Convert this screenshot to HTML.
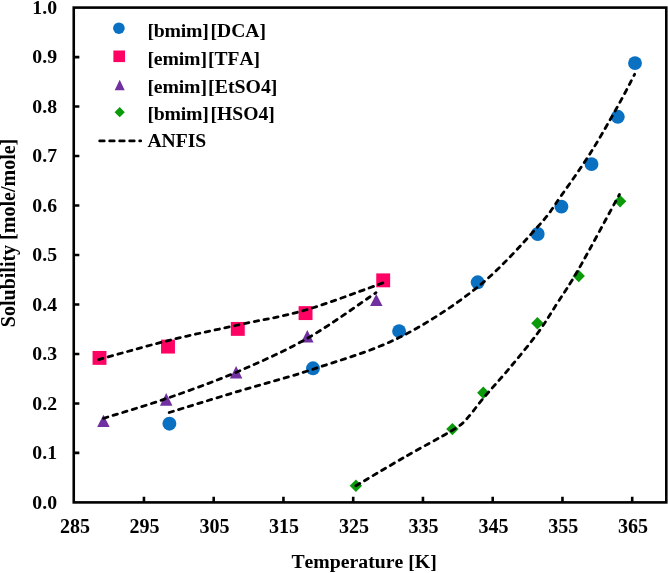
<!DOCTYPE html>
<html><head><meta charset="utf-8"><title>Solubility vs Temperature</title>
<style>html,body{margin:0;padding:0;background:#fff}svg{display:block;will-change:transform}text{font-family:"Liberation Serif",serif;font-weight:bold;fill:#000;font-kerning:none}</style></head><body>
<svg width="668" height="573" viewBox="0 0 668 573">
<rect x="0" y="0" width="668" height="573" fill="#fff"/>
<rect x="73.75" y="7.6" width="592.55" height="494.79999999999995" fill="none" stroke="#000" stroke-width="2.6"/>
<path d="M73.75,452.92h5.6 M73.75,403.44h5.6 M73.75,353.96h5.6 M73.75,304.48h5.6 M73.75,255.00h5.6 M73.75,205.52h5.6 M73.75,156.04h5.6 M73.75,106.56h5.6 M73.75,57.08h5.6 M143.95,502.4v-5.6 M213.70,502.4v-5.6 M283.45,502.4v-5.6 M353.20,502.4v-5.6 M422.95,502.4v-5.6 M492.70,502.4v-5.6 M562.45,502.4v-5.6 M632.20,502.4v-5.6" stroke="#000" stroke-width="2.6" fill="none"/>
<g font-size="19.75" text-anchor="end">
<text x="57.0" y="508.7">0.0</text>
<text x="57.0" y="459.2">0.1</text>
<text x="57.0" y="409.7">0.2</text>
<text x="57.0" y="360.3">0.3</text>
<text x="57.0" y="310.8">0.4</text>
<text x="57.0" y="261.3">0.5</text>
<text x="57.0" y="211.8">0.6</text>
<text x="57.0" y="162.3">0.7</text>
<text x="57.0" y="112.9">0.8</text>
<text x="57.0" y="63.4">0.9</text>
<text x="57.0" y="13.9">1.0</text>
</g>
<g font-size="20.05" text-anchor="middle">
<text x="74.9" y="532.6">285</text>
<text x="144.6" y="532.6">295</text>
<text x="214.4" y="532.6">305</text>
<text x="284.1" y="532.6">315</text>
<text x="353.9" y="532.6">325</text>
<text x="423.6" y="532.6">335</text>
<text x="493.4" y="532.6">345</text>
<text x="563.2" y="532.6">355</text>
<text x="632.9" y="532.6">365</text>
</g>
<text x="291.4" y="568.3" font-size="19.75">Temperature [K]</text>
<text transform="translate(15.2,327.2) rotate(-90)" font-size="20.03">Solubility [mole/mole]</text>
<g>
<circle cx="169.4" cy="423.7" r="6.95" fill="#0a70c2"/>
<circle cx="313" cy="368.3" r="6.95" fill="#0a70c2"/>
<circle cx="399.1" cy="331.1" r="6.95" fill="#0a70c2"/>
<circle cx="477.7" cy="282.3" r="6.95" fill="#0a70c2"/>
<circle cx="537.7" cy="234" r="6.95" fill="#0a70c2"/>
<circle cx="561.4" cy="206.6" r="6.95" fill="#0a70c2"/>
<circle cx="591.5" cy="164.1" r="6.95" fill="#0a70c2"/>
<circle cx="617.8" cy="116.8" r="6.95" fill="#0a70c2"/>
<circle cx="635" cy="63.1" r="6.95" fill="#0a70c2"/>
<rect x="92.55" y="350.95" width="13.9" height="13.9" fill="#fe0364"/>
<rect x="161.05" y="339.65" width="13.9" height="13.9" fill="#fe0364"/>
<rect x="230.85" y="321.95" width="13.9" height="13.9" fill="#fe0364"/>
<rect x="298.60" y="306.15" width="13.9" height="13.9" fill="#fe0364"/>
<rect x="376.25" y="273.40" width="13.9" height="13.9" fill="#fe0364"/>
<path d="M103.40,414.80L109.65,427.10H97.15Z" fill="#7030a0"/>
<path d="M166.20,393.10L172.45,405.70H159.95Z" fill="#7030a0"/>
<path d="M236.10,366.10L242.35,378.60H229.85Z" fill="#7030a0"/>
<path d="M307.30,330.00L313.55,342.40H301.05Z" fill="#7030a0"/>
<path d="M376.30,293.90L382.55,306.00H370.05Z" fill="#7030a0"/>
<path d="M355.9,479.6L362.09999999999997,485.8L355.9,492.0L349.7,485.8Z" fill="#0a9a0a"/>
<path d="M452.4,422.90000000000003L458.59999999999997,429.1L452.4,435.3L446.2,429.1Z" fill="#0a9a0a"/>
<path d="M483.3,386.5L489.5,392.7L483.3,398.9L477.1,392.7Z" fill="#0a9a0a"/>
<path d="M537.4,317.0L543.6,323.2L537.4,329.4L531.1999999999999,323.2Z" fill="#0a9a0a"/>
<path d="M578.7,269.8L584.9000000000001,276L578.7,282.2L572.5,276Z" fill="#0a9a0a"/>
<path d="M620.1,195.0L626.3000000000001,201.2L620.1,207.39999999999998L613.9,201.2Z" fill="#0a9a0a"/>
</g>
<g fill="none" stroke="#000" stroke-width="2.8" stroke-linecap="round" stroke-dasharray="4.5 5.5">
<path d="M169.2,412.5 C181.0,408.9 216.0,398.0 240.0,390.8 C264.0,383.6 286.5,378.1 313.0,369.2 C339.5,360.3 371.7,351.3 399.1,337.6 C426.6,323.9 454.6,305.5 477.7,287.0 C500.8,268.5 523.8,242.1 537.7,226.8 C551.7,211.5 552.4,208.0 561.4,195.4 C570.4,182.8 582.1,166.2 591.5,151.3 C600.9,136.4 610.6,118.9 617.8,106.1 C625.0,93.3 631.8,79.6 634.6,74.3"/>
<path d="M103.6,418.3 C114.1,415.0 144.4,406.2 166.5,398.5 C188.6,390.8 212.9,382.2 236.4,372.2 C259.9,362.1 284.3,351.4 307.6,338.2 C330.9,324.9 364.6,300.3 376.0,292.7"/>
<path d="M98.7,359.6 C110.3,356.4 144.9,346.4 168.1,340.6 C191.3,334.8 215.0,330.1 237.9,325.0 C260.8,319.9 281.3,317.1 305.6,310.0 C330.0,302.9 370.9,287.1 384.0,282.5"/>
<path d="M355.9,485.8 C363.9,481.1 388.1,466.6 404.1,457.4 C420.2,448.1 442.0,436.7 452.4,430.3 C462.8,423.9 461.3,424.5 466.4,419.2 C471.5,413.9 475.8,407.2 483.0,398.6 C490.2,390.0 500.7,378.7 509.8,367.8 C518.9,356.9 529.4,344.4 537.4,333.5 C545.4,322.6 550.7,313.4 557.6,302.6 C564.5,291.9 568.4,287.0 578.7,269.0 C589.0,251.0 612.6,206.9 619.4,194.5"/>
<path d="M99.7,140.9H140.7"/>
</g>
<circle cx="118.9" cy="28.2" r="5.8" fill="#0a70c2"/>
<rect x="113.4" y="50.5" width="11.6" height="11.6" fill="#fe0364"/>
<path d="M119.7,79.8L124.7,90.3H114.7Z" fill="#7030a0"/>
<path d="M119.7,107.1L124.8,112.2L119.7,117.3L114.6,112.2Z" fill="#0a9a0a"/>
<g font-size="19.75">
<text x="147.4" y="36.7" textLength="61.4" lengthAdjust="spacing">[bmim]</text><text x="210.5" y="36.7" textLength="55.4" lengthAdjust="spacingAndGlyphs">[DCA]</text>
<text x="147.4" y="65" textLength="59.6" lengthAdjust="spacing">[emim]</text><text x="208.1" y="65" textLength="52.0" lengthAdjust="spacingAndGlyphs">[TFA]</text>
<text x="147.4" y="92.8" textLength="59.6" lengthAdjust="spacing">[emim]</text><text x="208.1" y="92.8" textLength="69.3" lengthAdjust="spacingAndGlyphs">[EtSO4]</text>
<text x="147.4" y="120.4" textLength="61.4" lengthAdjust="spacing">[bmim]</text><text x="210.5" y="120.4" textLength="64.4" lengthAdjust="spacingAndGlyphs">[HSO4]</text>
<text x="147.4" y="147.4" textLength="58.9" lengthAdjust="spacingAndGlyphs">ANFIS</text>
</g>
</svg></body></html>
